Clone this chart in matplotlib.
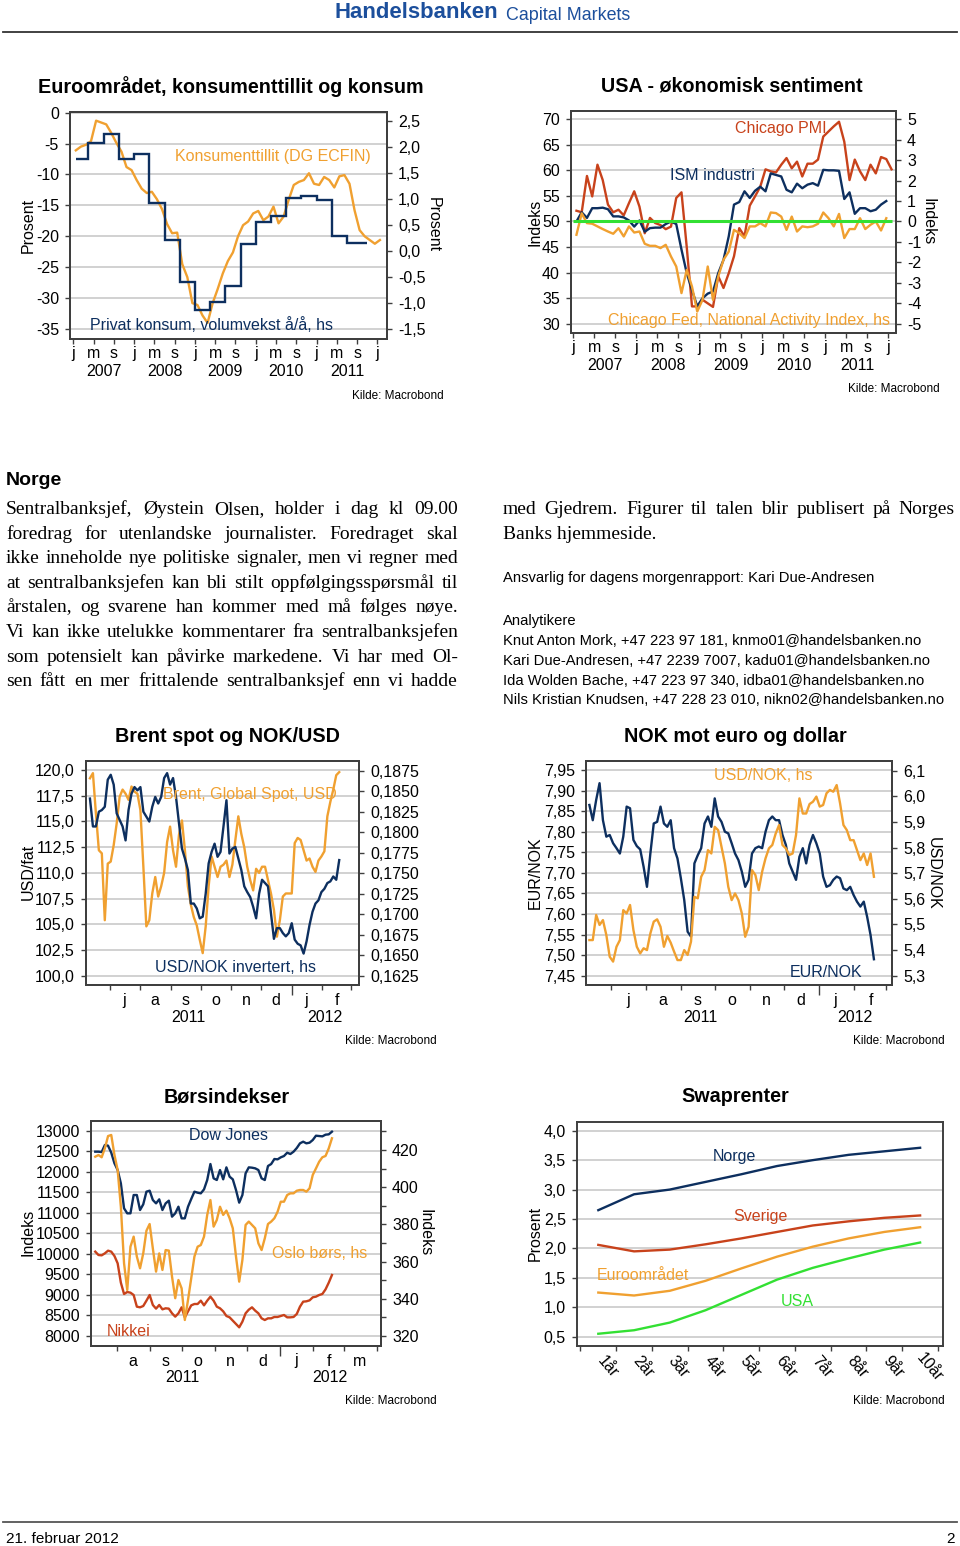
import numpy as np
import pandas as pd
import matplotlib
matplotlib.use('Agg')
import matplotlib.pyplot as plt
import matplotlib.dates as mdates
from matplotlib.lines import Line2D

# ---------------- data ----------------
# Euroområdet: konsumenttillit (monthly, jan 2007 - jan 2012), privat konsum (quarterly, hs)
cons_conf = [-6.1, -5.5, -5.2, -4.6, -1.3, -1.6, -1.9, -3.3, -4.9, -6.3,
             -8.8, -9.3, -10.9, -12.3, -13.0, -12.8, -14.0, -15.6, -18.0, -19.5,
             -19.4, -24.5, -26.6, -30.8, -31.1, -32.8, -34.0, -30.8, -28.5, -26.0,
             -24.0, -22.6, -20.0, -18.2, -17.6, -16.3, -15.9, -17.4, -16.8, -15.2,
             -17.9, -16.8, -14.1, -11.7, -11.2, -10.9, -9.8, -11.5, -11.7, -10.4,
             -10.9, -12.1, -10.3, -10.1, -11.5, -15.8, -19.0, -20.0, -20.6, -21.2,
             -20.6]
priv_cons = [1.78, 2.09, 2.25, 1.78, 1.88, 0.92, 0.22, -0.60, -1.13, -0.97,
             -0.67, 0.14, 0.57, 0.68, 1.03, 1.07, 0.98, 0.30, 0.16]

# USA: Chicago PMI, ISM, Chicago Fed NAI (hs)
chicago_pmi = [52.1, 51.8, 58.9, 54.9, 61.1, 58.1, 53.3, 51.8, 52.3, 51.2,
               53.6, 55.9, 52.9, 47.7, 50.7, 49.7, 49.3, 48.5, 49.0, 54.6,
               55.7, 45.0, 33.4, 33.4, 34.7, 34.0, 33.3, 39.3, 37.0, 39.9,
               43.2, 48.7, 47.1, 53.1, 54.9, 56.8, 60.2, 59.8, 59.6, 61.1,
               62.4, 60.4, 61.7, 58.8, 61.3, 61.3, 62.1, 66.6, 67.6, 68.6,
               69.5, 65.6, 58.1, 62.1, 59.8, 58.1, 61.1, 59.4, 62.6, 62.2,
               60.2]
ism = [50.0, 51.8, 50.7, 52.6, 52.6, 52.7, 52.4, 51.0, 51.0, 50.8,
       50.2, 49.0, 50.2, 48.0, 48.7, 48.8, 48.8, 49.5, 50.0, 49.5,
       44.5, 39.9, 36.6, 33.4, 35.0, 35.9, 36.3, 39.9, 42.5, 47.1,
       53.3, 53.8, 55.9, 54.6, 56.0, 56.8, 55.9, 59.4, 59.1, 58.8,
       56.2, 55.7, 57.4, 56.5, 57.2, 57.5, 57.0, 60.1, 60.0, 60.0,
       59.9, 54.4, 55.7, 51.5, 52.6, 52.6, 52.0, 52.3, 53.3, 54.0]
cfnai = [-0.65, 0.40, -0.08, -0.11, -0.24, -0.37, -0.49, -0.60, -0.33, -0.73,
         -0.24, -0.54, -0.49, -1.09, -1.19, -1.19, -1.30, -1.14, -1.71, -2.20,
         -3.50, -2.36, -3.18, -4.40, -3.83, -2.20, -3.83, -2.69, -1.87, -1.47,
         -0.41, -0.57, -0.81, -0.24, -0.24, -0.08, -0.24, 0.44, 0.41, 0.24,
         -0.41, 0.24, -0.49, -0.24, -0.28, -0.24, -0.11, 0.44, 0.16, -0.24,
         0.37, -0.81, -0.37, -0.37, 0.16, -0.37, -0.16, 0.00, -0.44, 0.16]

# Brent spot and USD/NOK inverted, every third day from 11 june 2011
brent = [119.2, 119.7, 115.8, 112.2, 111.9, 105.4, 110.9, 111.1, 112.7, 114.8,
         117.4, 118.1, 117.7, 117.1, 118.4, 117.9, 117.7, 116.1, 110.6, 104.8,
         105.4, 108.0, 109.6, 107.7, 108.7, 110.0, 113.0, 114.5, 112.2, 110.6,
         113.7, 115.1, 112.2, 108.7, 106.9, 105.7, 104.9, 103.5, 102.2, 104.8,
         108.7, 111.6, 110.6, 109.6, 110.6, 110.8, 111.2, 109.6, 110.8, 113.2,
         115.5, 113.8, 112.5, 110.6, 109.3, 108.3, 110.4, 110.0, 110.6, 110.6,
         109.3, 108.0, 106.4, 103.8, 105.4, 107.7, 108.0, 108.0, 108.0, 112.9,
         113.4, 113.2, 112.2, 111.2, 111.4, 110.6, 110.1, 111.2, 111.6, 112.1,
         115.5, 116.9, 118.1, 119.5, 119.8]
usdnok_inv = [0.1841, 0.1807, 0.1807, 0.1825, 0.1827, 0.1831, 0.1864, 0.1870, 0.1858, 0.1823,
              0.1815, 0.1807, 0.1790, 0.1827, 0.1847, 0.1855, 0.1851, 0.1855, 0.1825, 0.1819,
              0.1813, 0.1831, 0.1843, 0.1835, 0.1843, 0.1866, 0.1872, 0.1858, 0.1866, 0.1843,
              0.1811, 0.1780, 0.1768, 0.1754, 0.1713, 0.1713, 0.1707, 0.1695, 0.1697, 0.1725,
              0.1762, 0.1776, 0.1786, 0.1770, 0.1776, 0.1807, 0.1839, 0.1774, 0.1780, 0.1782,
              0.1768, 0.1754, 0.1734, 0.1727, 0.1721, 0.1709, 0.1695, 0.1725, 0.1742, 0.1738,
              0.1734, 0.1701, 0.1670, 0.1683, 0.1683, 0.1677, 0.1673, 0.1677, 0.1689, 0.1669,
              0.1664, 0.1662, 0.1652, 0.1667, 0.1687, 0.1703, 0.1713, 0.1717, 0.1727, 0.1731,
              0.1738, 0.1740, 0.1746, 0.1742, 0.1766]

# NOK mot euro og dollar, every third day from 12 june 2011
eurnok = [7.865, 7.828, 7.877, 7.918, 7.828, 7.788, 7.792, 7.772, 7.760, 7.747,
          7.788, 7.861, 7.857, 7.780, 7.765, 7.757, 7.715, 7.666, 7.747, 7.820,
          7.824, 7.861, 7.820, 7.812, 7.828, 7.760, 7.735, 7.687, 7.634, 7.557,
          7.545, 7.723, 7.743, 7.760, 7.820, 7.837, 7.812, 7.881, 7.837, 7.824,
          7.800, 7.796, 7.772, 7.747, 7.731, 7.703, 7.666, 7.683, 7.747, 7.760,
          7.764, 7.760, 7.800, 7.828, 7.837, 7.828, 7.828, 7.792, 7.768, 7.723,
          7.703, 7.683, 7.739, 7.760, 7.723, 7.768, 7.792, 7.772, 7.747, 7.691,
          7.666, 7.670, 7.683, 7.691, 7.687, 7.662, 7.658, 7.666, 7.646, 7.630,
          7.618, 7.630, 7.593, 7.549, 7.490]
usdnok = [5.439, 5.439, 5.537, 5.498, 5.517, 5.459, 5.374, 5.355, 5.413, 5.439,
          5.556, 5.543, 5.576, 5.478, 5.413, 5.387, 5.407, 5.400, 5.465, 5.511,
          5.520, 5.491, 5.413, 5.455, 5.429, 5.394, 5.361, 5.361, 5.400, 5.381,
          5.433, 5.608, 5.602, 5.686, 5.712, 5.790, 5.777, 5.881, 5.868, 5.803,
          5.738, 5.647, 5.595, 5.621, 5.595, 5.543, 5.452, 5.491, 5.712, 5.693,
          5.634, 5.706, 5.758, 5.797, 5.810, 5.855, 5.888, 5.810, 5.797, 5.771,
          5.777, 5.849, 5.992, 5.933, 5.933, 5.970, 5.979, 5.999, 5.960, 5.966,
          6.012, 6.025, 6.018, 6.044, 5.973, 5.888, 5.868, 5.829, 5.829, 5.790,
          5.751, 5.777, 5.732, 5.777, 5.686]

# Børsindekser, every third day from 12 july 2011
dow = [12489, 12489, 12480, 12651, 12635, 12464, 12205, 12042, 11718, 11109,
       10987, 10987, 11433, 11433, 11068, 11206, 11515, 11539, 11312, 11230,
       11328, 11068, 11230, 11295, 10906, 10987, 11149, 10865, 10865, 11149,
       11336, 11515, 11490, 11474, 11571, 11799, 12188, 11839, 11799, 12042,
       11815, 12107, 11880, 11815, 11555, 11247, 11433, 11961, 12107, 12099,
       12083, 12042, 11839, 11799, 12140, 12188, 12310, 12302, 12351, 12383,
       12464, 12432, 12489, 12578, 12692, 12732, 12692, 12708, 12773, 12878,
       12870, 12862, 12903, 12911, 12976]
oslo = [416.4, 417.3, 416.1, 420.9, 427.5, 428.1, 417.3, 409.2, 389.5, 359.1,
        344.7, 368.0, 373.4, 362.7, 356.4, 364.4, 376.6, 380.2, 367.1, 354.6,
        364.4, 355.5, 366.2, 365.9, 351.9, 340.3, 350.1, 345.6, 328.6, 339.4,
        351.0, 362.7, 368.0, 368.9, 373.4, 385.1, 393.1, 378.8, 382.4, 389.5,
        385.1, 387.4, 383.3, 377.9, 362.7, 349.2, 360.9, 379.7, 381.5, 379.7,
        377.9, 369.8, 366.2, 372.5, 380.2, 381.5, 383.3, 386.8, 392.2, 392.2,
        395.8, 396.7, 396.7, 398.1, 398.5, 398.5, 397.6, 399.4, 406.6, 410.1,
        413.7, 416.1, 416.8, 420.9, 426.3]
nikkei = [10054, 9972, 9964, 10013, 10078, 10054, 9948, 9769, 9299, 9023,
          9071, 9055, 8998, 8714, 8698, 8730, 8860, 8998, 8755, 8666,
          8755, 8649, 8674, 8666, 8552, 8471, 8552, 8698, 8454, 8600,
          8746, 8779, 8779, 8860, 8746, 8860, 8958, 8860, 8714, 8674,
          8600, 8487, 8454, 8373, 8292, 8211, 8349, 8552, 8641, 8698,
          8617, 8552, 8430, 8389, 8430, 8430, 8463, 8463, 8487, 8511,
          8454, 8454, 8463, 8536, 8714, 8836, 8844, 8868, 8942, 8958,
          8998, 9023, 9136, 9299, 9485]

# Swaprenter
tenors = ['1år', '2år', '3år', '4år', '5år', '6år', '7år', '8år', '9år', '10år']
swap_no = [2.65, 2.92, 3.00, 3.13, 3.26, 3.40, 3.50, 3.59, 3.65, 3.71]
swap_se = [2.06, 1.95, 1.98, 2.07, 2.17, 2.28, 2.39, 2.46, 2.52, 2.56]
swap_eu = [1.25, 1.20, 1.28, 1.45, 1.66, 1.86, 2.03, 2.17, 2.28, 2.36]
swap_us = [0.55, 0.61, 0.74, 0.95, 1.21, 1.47, 1.67, 1.83, 1.98, 2.10]

left_lines = [
    'Sentralbanksjef, Øystein Olsen, holder i dag kl 09.00',
    'foredrag for utenlandske journalister. Foredraget skal',
    'ikke inneholde nye politiske signaler, men vi regner med',
    'at sentralbanksjefen kan bli stilt oppfølgingsspørsmål til',
    'årstalen, og svarene han kommer med må følges nøye.',
    'Vi kan ikke utelukke kommentarer fra sentralbanksjefen',
    'som potensielt kan påvirke markedene. Vi har med Ol-',
    'sen fått en mer frittalende sentralbanksjef enn vi hadde',
]
contacts = [
    'Knut Anton Mork, +47 223 97 181, knmo01@handelsbanken.no',
    'Kari Due-Andresen, +47 2239 7007, kadu01@handelsbanken.no',
    'Ida Wolden Bache, +47 223 97 340, idba01@handelsbanken.no',
    'Nils Kristian Knudsen, +47 228 23 010, nikn02@handelsbanken.no',
]

# ---------------- style ----------------
W, H = 960, 1546
NAVY = '#0d2f5f'
ORANGE = '#f0a030'
RED = '#c8421b'
GREEN = '#33e033'
GRID = '#c9c9c9'
FRAME = '#3f3f3f'
BLUE = '#1c4f9c'
SANS = ['Liberation Sans', 'DejaVu Sans']
SERIF = ['Liberation Serif', 'DejaVu Serif']
plt.rcParams['font.family'] = SANS
LW = 1.7
TS = 11.5

fig = plt.figure(figsize=(W / 100, H / 100), dpi=100)
R = fig.canvas.get_renderer()


def box(l, t, r, b):
    return [l / W, 1 - b / H, (r - l) / W, (b - t) / H]


def txt(x, y, s, **kw):
    kw.setdefault('va', 'center')
    return fig.text(x / W, 1 - y / H, s, **kw)


def fit(x, y, s, width, **kw):
    t = txt(x, y, s, fontsize=10, **kw)
    t.set_fontsize(10 * width / t.get_window_extent(renderer=R).width)
    return t


def comma(vals, d):
    return [f'{0 if abs(v) < 1e-9 else v:.{d}f}'.replace('.', ',') for v in vals]


def style(ax):
    for s in ax.spines.values():
        s.set_color(FRAME)
        s.set_linewidth(1.4)
    ax.tick_params(which='both', direction='out', color=FRAME, width=1,
                   labelsize=TS, length=3.5, pad=4.5)
    ax.tick_params(axis='x', pad=1.5)


def main_axes(l, t, r, b):
    ax = fig.add_axes(box(l, t, r, b))
    style(ax)
    ax.grid(axis='y', color=GRID, lw=1.2)
    ax.set_axisbelow(True)
    return ax


def twin(ax):
    ax2 = ax.twinx()
    style(ax2)
    ax2.grid(False)
    return ax2


def under(ax, x, s, dy):
    ax.annotate(s, xy=(x, 0), xycoords=('data', 'axes fraction'), xytext=(0, -dy),
                textcoords='offset pixels', ha='center', va='center', fontsize=TS)


def month_axis(ax, first_year=2007, n_years=5):
    ticks = np.arange(0, 12 * n_years + 1, 4)
    ax.set_xticks(ticks)
    ax.set_xticklabels(['j', 'm', 's'] * n_years + ['j'])
    for k in range(n_years):
        under(ax, 12 * k + 6, str(first_year + k), 32)


def date_axis(ax, first, last, letters, years):
    starts = pd.date_range(first, last, freq='MS')
    ax.set_xticks(mdates.date2num([d for d in starts if d.month == 1]))
    ax.set_xticks(mdates.date2num([d for d in starts if d.month != 1]), minor=True)
    ax.tick_params(axis='x', which='major', length=7, labelbottom=False)
    ax.tick_params(axis='x', which='minor', length=3.5, labelbottom=False)
    for d, s in zip(starts[:-1] + pd.Timedelta(days=15), letters):
        under(ax, mdates.date2num(d), s, 15)
    for y, d in years:
        under(ax, mdates.date2num(pd.Timestamp(d)), y, 32)


def dlim(ax, a, b):
    ax.set_xlim(mdates.date2num(pd.Timestamp(a)), mdates.date2num(pd.Timestamp(b)))


def heading(title, tx, ty, kx, ky):
    txt(tx, ty, title, ha='center', fontsize=14.2, fontweight='bold')
    txt(kx, ky, 'Kilde: Macrobond', ha='right', fontsize=8.5)


def ylab(x, y, s, right=False):
    txt(x, y, s, ha='center', rotation=270 if right else 90, fontsize=TS)


# ---------------- header / footer ----------------
fit(334, 13, 'Handelsbanken', 164, color=BLUE, fontweight='bold')
fit(506, 15, 'Capital Markets', 124, color=BLUE)
fig.add_artist(Line2D([3 / W, 957 / W], [1 - 32 / H] * 2, color='#333333', lw=1.3))
fig.add_artist(Line2D([3 / W, 957 / W], [1 - 1522 / H] * 2, color='#555555', lw=1.3))
fit(6, 1539, '21. februar 2012', 114)
txt(955, 1539, '2', ha='right', fontsize=11)

# ---------------- chart 1: Euroområdet ----------------
heading('Euroområdet, konsumenttillit og konsum', 231, 87, 444, 396)
ax = main_axes(70, 112, 387, 339)
ax.plot(np.arange(len(cons_conf)) + 0.5, cons_conf, color=ORANGE, lw=LW)
lt = np.arange(0, -36, -5)
ax.set_yticks(lt)
ax.set_yticklabels([str(v) for v in lt])
ax.set_ylim(-36.6, 0.1)
ax.set_xlim(-0.65, 61.9)
month_axis(ax)
ax2 = twin(ax)
edges = np.r_[0.6, 3 * np.arange(1, len(priv_cons)), 3 * len(priv_cons) + 1]
ax2.stairs(priv_cons, edges, baseline=None, color=NAVY, lw=LW)
rt = np.round(np.arange(-1.5, 2.51, 0.5), 2)
ax2.set_yticks(rt)
ax2.set_yticklabels(comma(rt, 1))
ax2.set_ylim(-1.69, 2.68)
ylab(28, 225, 'Prosent')
ylab(433, 225, 'Prosent', right=True)
txt(175, 157, 'Konsumenttillit (DG ECFIN)', color=ORANGE, fontsize=TS)
txt(90, 325, 'Privat konsum, volumvekst å/å, hs', color=NAVY, fontsize=TS)

# ---------------- chart 2: USA ----------------
heading('USA - økonomisk sentiment', 732, 86, 940, 389)
ax = main_axes(571, 111, 896, 333)
ax.plot(np.arange(len(chicago_pmi)) + 0.6, chicago_pmi, color=RED, lw=LW)
ax.plot(np.arange(len(ism)) + 0.6, ism, color=NAVY, lw=LW)
lt = np.arange(30, 71, 5)
ax.set_yticks(lt)
ax.set_yticklabels([str(v) for v in lt])
ax.set_ylim(28.2, 71.6)
ax.set_xlim(-0.44, 61.45)
month_axis(ax)
ax2 = twin(ax)
ax2.plot(np.arange(len(cfnai)) + 0.6, cfnai, color=ORANGE, lw=LW)
ax2.hlines(0, 0, len(chicago_pmi) - 0.4, color=GREEN, lw=2.2)
rt = np.arange(-5, 6)
ax2.set_yticks(rt)
ax2.set_yticklabels([str(v) for v in rt])
ax2.set_ylim(-5.45, 5.4)
ylab(535, 222, 'Indeks')
ylab(928, 222, 'Indeks', right=True)
txt(735, 128, 'Chicago PMI', color=RED, fontsize=TS)
txt(670, 176, 'ISM industri', color=NAVY, fontsize=TS)
txt(608, 320, 'Chicago Fed, National Activity Index, hs', color=ORANGE, fontsize=TS)


# ---------------- text block ----------------
def justify(x0, x1, y, line, size, family):
    words = line.split()
    arts = [txt(0, y, w, fontsize=size, family=family, va='baseline') for w in words]
    widths = [a.get_window_extent(renderer=R).width for a in arts]
    gap = (x1 - x0 - sum(widths)) / (len(words) - 1)
    x = x0
    for a, w in zip(arts, widths):
        a.set_x(x / W)
        x += w + gap


txt(6, 481, 'Norge', fontsize=14, fontweight='bold')
for i, line in enumerate(left_lines):
    justify(6, 458, 514 + i * 24.6, line, 14, SERIF)
justify(503, 955, 514, 'med Gjedrem. Figurer til talen blir publisert på Norges', 14, SERIF)
txt(503, 538.6, 'Banks hjemmeside.', fontsize=14, family=SERIF, va='baseline')
t = fit(503, 700, contacts[-1], 438)
small = t.get_fontsize()
txt(503, 578, 'Ansvarlig for dagens morgenrapport: Kari Due-Andresen', fontsize=small)
txt(503, 621, 'Analytikere', fontsize=small)
for i, c in enumerate(contacts[:-1]):
    txt(503, 641 + i * 20, c, fontsize=small)

# ---------------- chart 3: Brent ----------------
heading('Brent spot og NOK/USD', 227, 737, 437, 1041)
ax = main_axes(86, 761, 359, 985)
d3 = mdates.date2num(pd.date_range('2011-06-11', periods=len(brent), freq='3D'))
ax.plot(d3, brent, color=ORANGE, lw=LW)
lt = np.arange(100, 120.1, 2.5)
ax.set_yticks(lt)
ax.set_yticklabels(comma(lt, 1))
ax.set_ylim(99.1, 120.88)
dlim(ax, '2011-06-07', '2012-03-09')
date_axis(ax, '2011-07-01', '2012-03-01', 'jasondjf',
          [('2011', '2011-09-18'), ('2012', '2012-02-03')])
ax2 = twin(ax)
ax2.plot(d3, usdnok_inv, color=NAVY, lw=LW)
rt = np.arange(0.1625, 0.18751, 0.0025)
ax2.set_yticks(rt)
ax2.set_yticklabels(comma(rt, 4))
ax2.set_ylim(0.16137, 0.18868)
ylab(28, 872, 'USD/fat')
txt(163, 795, 'Brent, Global Spot, USD', color=ORANGE, fontsize=TS)
txt(155, 968, 'USD/NOK invertert, hs', color=NAVY, fontsize=TS)

# ---------------- chart 4: NOK ----------------
heading('NOK mot euro og dollar', 735, 737, 945, 1041)
ax = main_axes(586, 761, 892, 985)
d4 = mdates.date2num(pd.date_range('2011-06-12', periods=len(eurnok), freq='3D'))
ax.plot(d4, eurnok, color=NAVY, lw=LW)
lt = np.arange(7.45, 7.951, 0.05)
ax.set_yticks(lt)
ax.set_yticklabels(comma(lt, 2))
ax.set_ylim(7.4274, 7.9719)
dlim(ax, '2011-06-09', '2012-03-06')
date_axis(ax, '2011-07-01', '2012-03-01', 'jasondjf',
          [('2011', '2011-09-18'), ('2012', '2012-02-02')])
ax2 = twin(ax)
ax2.plot(d4, usdnok, color=ORANGE, lw=LW)
rt = np.arange(5.3, 6.101, 0.1)
ax2.set_yticks(rt)
ax2.set_yticklabels(comma(rt, 1))
ax2.set_ylim(5.2637, 6.1379)
ylab(535, 873, 'EUR/NOK')
ylab(933, 873, 'USD/NOK', right=True)
txt(714, 775, 'USD/NOK, hs', color=ORANGE, fontsize=TS)
txt(790, 972, 'EUR/NOK', color=NAVY, fontsize=TS)

# ---------------- chart 5: Børsindekser ----------------
heading('Børsindekser', 227, 1097, 437, 1401)
ax = main_axes(91, 1121, 381, 1346)
d5 = mdates.date2num(pd.date_range('2011-07-12', periods=len(dow), freq='3D'))
ax.plot(d5, nikkei, color=RED, lw=LW)
ax.plot(d5, dow, color=NAVY, lw=LW)
lt = np.arange(8000, 13001, 500)
ax.set_yticks(lt)
ax.set_yticklabels([str(v) for v in lt])
ax.set_ylim(7756, 13236)
dlim(ax, '2011-07-08', '2012-04-05')
date_axis(ax, '2011-08-01', '2012-04-01', 'asondjfm',
          [('2011', '2011-10-02'), ('2012', '2012-02-17')])
ax2 = twin(ax)
ax2.plot(d5, oslo, color=ORANGE, lw=LW)
rt = np.arange(320, 421, 20)
ax2.set_yticks(rt)
ax2.set_yticklabels([str(v) for v in rt])
ax2.set_yticks(rt + 10, minor=True)
ax2.set_ylim(314.6, 435.6)
ylab(28, 1232, 'Indeks')
ylab(425, 1233, 'Indeks', right=True)
txt(189, 1135, 'Dow Jones', color=NAVY, fontsize=TS)
txt(272, 1253, 'Oslo børs, hs', color=ORANGE, fontsize=TS)
txt(107, 1332, 'Nikkei', color=RED, fontsize=TS)

# ---------------- chart 6: Swaprenter ----------------
heading('Swaprenter', 735, 1097, 945, 1401)
ax = main_axes(577, 1122, 943, 1346)
xs = np.arange(1, len(tenors) + 1)
ax.plot(xs, swap_no, color=NAVY, lw=LW)
ax.plot(xs, swap_se, color=RED, lw=LW)
ax.plot(xs, swap_eu, color=ORANGE, lw=LW)
ax.plot(xs, swap_us, color=GREEN, lw=LW)
lt = np.arange(0.5, 4.01, 0.5)
ax.set_yticks(lt)
ax.set_yticklabels(comma(lt, 1))
ax.set_ylim(0.342, 4.148)
ax.set_xlim(0.404, 10.64)
ax.set_xticks(np.arange(0.5, len(tenors) + 1, 1.0))
ax.tick_params(axis='x', labelbottom=False)
for x, s in zip(xs, tenors):
    ax.annotate(s, xy=(x, 0), xycoords=('data', 'axes fraction'), xytext=(9, -21),
                textcoords='offset pixels', ha='center', va='center',
                rotation=-50, fontsize=TS)
ylab(535, 1233, 'Prosent')
txt(713, 1157, 'Norge', color=NAVY, fontsize=TS)
txt(733, 1217, 'Sverige', color=RED, fontsize=TS)
txt(597, 1275, 'Euroområdet', color=ORANGE, fontsize=TS)
txt(781, 1301, 'USA', color=GREEN, fontsize=TS)

fig.savefig('out.png', dpi=100, facecolor='white')
